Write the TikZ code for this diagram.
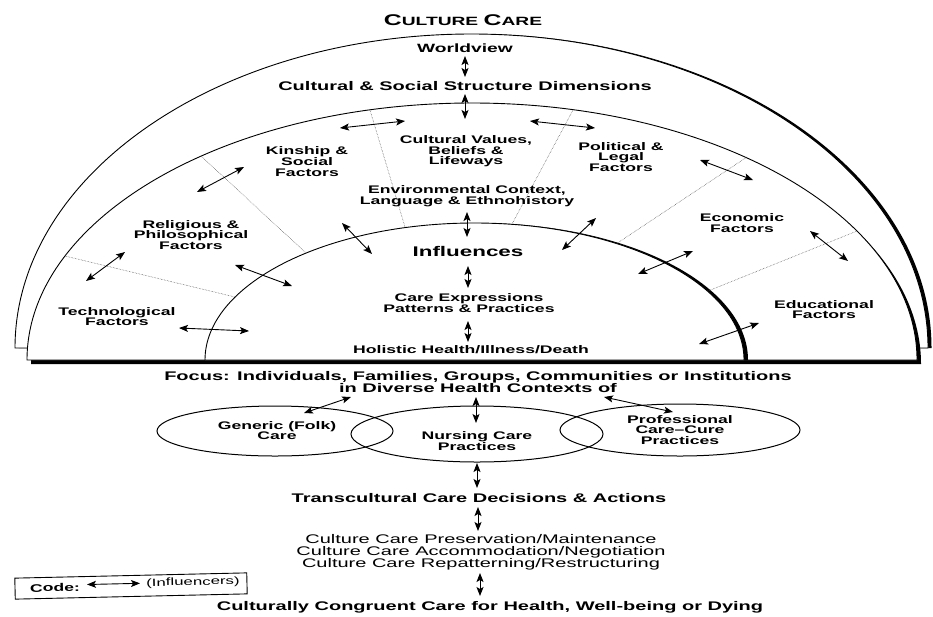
\documentclass[tikz,border=0pt]{standalone}
\usepackage{fontspec}
\setmainfont{Liberation Sans}[FakeStretch=1.6]
\usetikzlibrary{arrows.meta}
\begin{document}
\begin{tikzpicture}[x=1pt,y=-1pt,
  lbl/.style={font=\fontsize{11}{10.6}\selectfont\bfseries, align=center, inner sep=0pt},
  lblbig/.style={font=\fontsize{12.5}{12}\selectfont\bfseries, align=center, inner sep=0pt},
  lblreg/.style={font=\fontsize{12.5}{11.6}\selectfont, align=center, inner sep=0pt},
  infl/.style={{Stealth[length=9pt,width=7pt,inset=2pt]}-{Stealth[length=9pt,width=7pt,inset=2pt]}, line width=0.9pt},
  sepline/.style={densely dotted, line width=0.5pt, black!75},
  arcline/.style={line width=0.9pt},
  oval/.style={line width=1pt}]
\useasboundingbox (0,0) rectangle (933,616);
\fill[white] (0,0) rectangle (933,616);

% ---- outer half ellipse (Worldview) ----
\fill[black,shift={(3.5,0)}] (15,348) arc[start angle=180,end angle=360,x radius=456.5,y radius=314] -- cycle;
\filldraw[fill=white,arcline] (15,348) arc[start angle=180,end angle=360,x radius=456.5,y radius=314] -- cycle;
% ---- middle half ellipse (factors) ----
\fill[black,shift={(4,4)}] (27,360) arc[start angle=180,end angle=360,x radius=445,y radius=257] -- cycle;
\filldraw[fill=white,arcline] (27,360) arc[start angle=180,end angle=360,x radius=445,y radius=257] -- cycle;
% ---- inner half ellipse ----
\fill[black,shift={(4,0)}] (205,360) arc[start angle=180,end angle=360,x radius=269.5,y radius=137] -- cycle;
\filldraw[fill=white,arcline] (205,360) arc[start angle=180,end angle=360,x radius=269.5,y radius=137] -- cycle;

% ---- dotted sector separators ----
\draw[sepline] (65,256) -- (235,297);
\draw[sepline] (201,156) -- (306,253);
\draw[sepline] (370,110) -- (405,227);
\draw[sepline] (573,110) -- (512,224);
\draw[sepline] (747,157) -- (616,244);
\draw[sepline] (857,231) -- (708,291);

% ---- texts ----
\node[inner sep=0pt,font=\bfseries] (title) at (463,20)
  {\fontsize{15.5}{15}\selectfont C\fontsize{12}{12}\selectfont ULTURE \fontsize{15.5}{15}\selectfont C\fontsize{12}{12}\selectfont ARE};
\node[lbl,font=\fontsize{12}{12}\selectfont\bfseries] (wv) at (465,48) {Worldview};
\node[lblbig] (cssd) at (465,86) {Cultural \& Social Structure Dimensions};
\node[lbl] (kin) at (307,161.5) {Kinship \&\\Social\\Factors};
\node[lbl] (cvb) at (466,151.5) {Cultural Values,\\Beliefs \&\\Lifeways};
\node[lbl] (pol) at (621,157) {Political \&\\Legal\\Factors};
\node[lbl] (env) at (467,196) {Environmental Context,\\Language \& Ethnohistory};
\node[lbl] (rel) at (191,235) {Religious \&\\Philosophical\\Factors};
\node[lbl] (eco) at (742,223) {Economic\\Factors};
\node[inner sep=0pt,font=\fontsize{14}{14}\selectfont\bfseries] (infl) at (468,251) {Influences};
\node[lbl] (care) at (469,303) {Care Expressions\\Patterns \& Practices};
\node[lbl] (tech) at (117,316.5) {Technological\\Factors};
\node[lbl] (edu) at (824,309.5) {Educational\\Factors};
\node[lbl] (hol) at (471,350) {Holistic Health/Illness/Death};

\node[lblbig] (focus) at (478,382) {Focus: Individuals, Families, Groups, Communities or Institutions\\in Diverse Health Contexts of};

\draw[oval] (275,431) ellipse [x radius=118, y radius=25];
\draw[oval] (477,434) ellipse [x radius=126, y radius=28];
\draw[oval] (680,430) ellipse [x radius=120, y radius=26];
\node[lbl] (gen) at (277,430.5) {Generic (Folk)\\Care};
\node[lbl] (nur) at (477,441) {Nursing Care\\Practices};
\node[lbl] (pro) at (680,430) {Professional\\Care–Cure\\Practices};

\node[lblbig] (trans) at (479,498) {Transcultural Care Decisions \& Actions};
\node[lblreg] (cc) at (481,552.5) {Culture Care Preservation/Maintenance\\Culture Care Accommodation/Negotiation\\Culture Care Repatterning/Restructuring};
\node[lblbig] (cong) at (490,607) {Culturally Congruent Care for Health, Well-being or Dying};

% ---- code box ----
\node[draw,line width=0.9pt,rotate=1.3,minimum width=232pt,minimum height=21pt,inner sep=0pt] (codebox) at (131,586) {};
\node[lbl,rotate=1.3] (codelbl) at (55,587.5) {Code:};
\node[inner sep=0pt,rotate=1.3,font=\fontsize{10.5}{11}\selectfont] (codetxt) at (193,582.5) {(Influencers)};
\coordinate (k1) at (87,584.5);
\coordinate (k2) at (140,583.3);
\draw[infl] (k1) -- (k2);

% ---- influence arrows ----
\coordinate (a1s) at (465,56);  \coordinate (a1e) at (465,77);
\coordinate (a2s) at (465,94);  \coordinate (a2e) at (465,119);
\coordinate (a3s) at (340,128); \coordinate (a3e) at (405,121);
\coordinate (a4s) at (530,121); \coordinate (a4e) at (595,128);
\coordinate (a5s) at (197,192); \coordinate (a5e) at (244,167);
\coordinate (a6s) at (700,160); \coordinate (a6e) at (753,180);
\coordinate (a7s) at (86,281);  \coordinate (a7e) at (125,252);
\coordinate (a8s) at (235,265); \coordinate (a8e) at (292,286);
\coordinate (a9s) at (179,328); \coordinate (a9e) at (249,331);
\coordinate (a10s) at (342,223); \coordinate (a10e) at (372,254);
\coordinate (a11s) at (467,212); \coordinate (a11e) at (467,237);
\coordinate (a12s) at (596,218); \coordinate (a12e) at (562,250);
\coordinate (a13s) at (638,274); \coordinate (a13e) at (693,251);
\coordinate (a14s) at (810,231); \coordinate (a14e) at (848,261);
\coordinate (a15s) at (699,344); \coordinate (a15e) at (759,323);
\coordinate (a16s) at (468,266); \coordinate (a16e) at (468,288);
\coordinate (a17s) at (468,321); \coordinate (a17e) at (468,342);
\foreach \i in {1,...,17} {\draw[infl] (a\i s) -- (a\i e);}

\coordinate (b1s) at (351,397); \coordinate (b1e) at (304,413);
\coordinate (b2s) at (476,397); \coordinate (b2e) at (476,423);
\coordinate (b3s) at (604,397); \coordinate (b3e) at (673,412);
\coordinate (b4s) at (477,463); \coordinate (b4e) at (477,488);
\coordinate (b5s) at (478,507); \coordinate (b5e) at (478,531);
\coordinate (b6s) at (480,573); \coordinate (b6e) at (480,596);
\foreach \i in {1,...,6} {\draw[infl] (b\i s) -- (b\i e);}
\end{tikzpicture}
\end{document}
